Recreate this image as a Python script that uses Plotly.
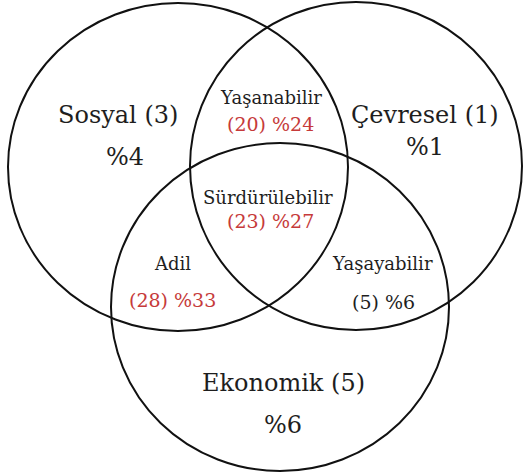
import plotly.graph_objects as go

# --- data ---
set_names = ["Sosyal", "Çevresel", "Ekonomik"]
set_counts = [3, 1, 5]
set_pcts = [4, 1, 6]

overlap_names = ["Yaşanabilir", "Sürdürülebilir", "Adil", "Yaşayabilir"]
overlap_counts = [20, 23, 28, 5]
overlap_pcts = [24, 27, 33, 6]
overlap_red = [True, True, True, False]

# --- layout (page pixel space) ---
W, H = 523, 474
circle_cx = [178, 356, 280]
circle_cy = [167, 166, 307]
circle_rx = [170, 166, 169]
circle_ry = [164, 164, 164]

set_label_xy = [(118, 115), (425, 115), (283, 383)]
set_pct_xy = [(125, 157), (425, 147), (283, 425)]
ov_label_xy = [(271, 97), (268, 197), (172, 263), (382, 263)]
ov_val_xy = [(270, 124), (270, 221), (172, 300), (383, 302)]

TEXT = "#1e1e1e"
RED = "#c63a3a"
FONT = "DejaVu Serif"

fig = go.Figure()

shapes = []
for cx, cy, rx, ry in zip(circle_cx, circle_cy, circle_rx, circle_ry):
    shapes.append(dict(type="circle", xref="x", yref="y",
                       x0=cx - rx, x1=cx + rx, y0=cy - ry, y1=cy + ry,
                       line=dict(color="#111111", width=2), fillcolor="rgba(0,0,0,0)"))

annotations = []
for name, cnt, pct, (lx, ly), (px, py) in zip(set_names, set_counts, set_pcts, set_label_xy, set_pct_xy):
    annotations.append(dict(x=lx, y=ly, text=f"{name} ({cnt})", showarrow=False,
                            font=dict(family=FONT, size=24, color=TEXT)))
    annotations.append(dict(x=px, y=py, text=f"%{pct}", showarrow=False,
                            font=dict(family=FONT, size=24, color=TEXT)))

for name, cnt, pct, red, (lx, ly), (vx, vy) in zip(overlap_names, overlap_counts, overlap_pcts,
                                                    overlap_red, ov_label_xy, ov_val_xy):
    annotations.append(dict(x=lx, y=ly, text=name, showarrow=False,
                            font=dict(family=FONT, size=18, color=TEXT)))
    annotations.append(dict(x=vx, y=vy, text=f"({cnt}) %{pct}", showarrow=False,
                            font=dict(family=FONT, size=19, color=RED if red else TEXT)))

fig.update_layout(
    width=W, height=H,
    margin=dict(l=0, r=0, t=0, b=0),
    paper_bgcolor="white", plot_bgcolor="white",
    xaxis=dict(range=[0, W], visible=False, fixedrange=True),
    yaxis=dict(range=[H, 0], visible=False, fixedrange=True),
    shapes=shapes, annotations=annotations,
    showlegend=False,
)

fig.write_html(
    "out.html",
    config={"displayModeBar": False},
    post_script="document.body.style.margin='0';document.body.style.overflow='hidden';",
)
